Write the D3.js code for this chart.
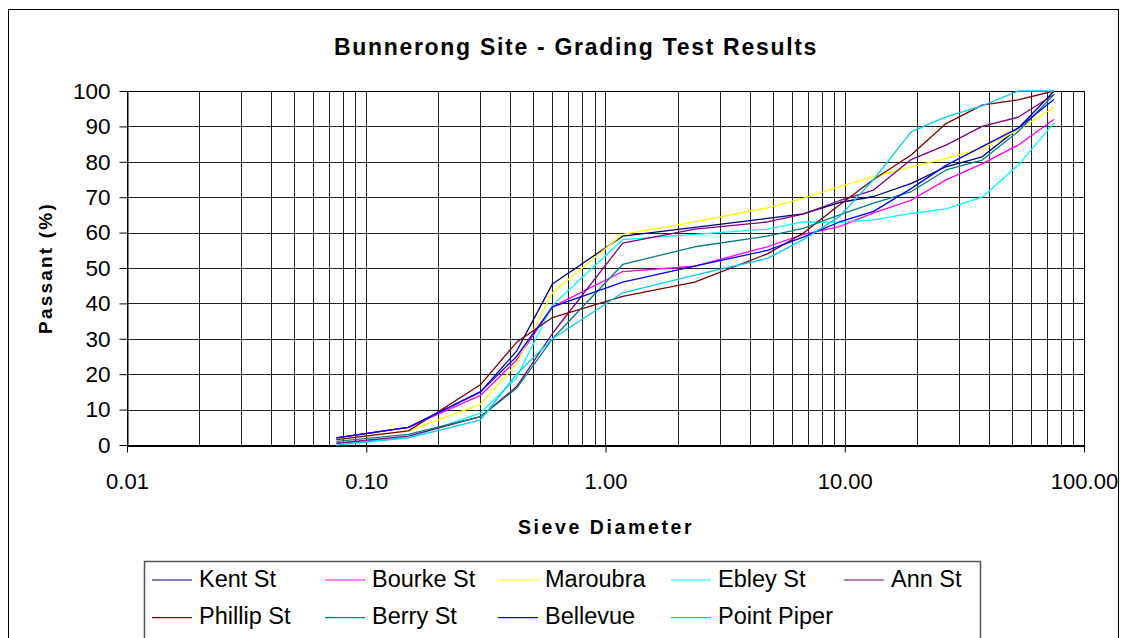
<!DOCTYPE html>
<html>
<head>
<meta charset="utf-8">
<script src="https://cdn.jsdelivr.net/npm/d3@7"></script>
<style>
  html, body { margin: 0; padding: 0; background: #fff; }
  svg { display: block; font-family: "Liberation Sans", Arial, sans-serif; }
</style>
</head>
<body>
<svg id="chart" width="1129" height="638"></svg>
<script>
const sieves = [0.075, 0.15, 0.3, 0.425, 0.6, 1.18, 2.36, 4.75, 6.7, 9.5, 13.2, 19, 26.5, 37.5, 53, 75];
const seriesNames = ["Kent St", "Bourke St", "Maroubra", "Ebley St", "Ann St", "Phillip St", "Berry St", "Bellevue", "Point Piper"];
const kentSt     = [2, 5, 15, 26.5, 45.5, 59, 61.5, 64, 65.3, 68.5, 70.2, 73.9, 78.6, 81.4, 89.4, 100];
const bourkeSt   = [2, 5, 14, 24, 39, 49, 50.5, 56, 59.5, 61.7, 65.6, 69.2, 74.9, 79.4, 84.7, 92];
const maroubra   = [1.5, 4, 11.5, 23, 43, 59.5, 63, 67, 69.7, 73, 75.8, 78.6, 81, 83.8, 89, 95.4];
const ebleySt    = [0.5, 2, 9, 19, 39.5, 58, 59.5, 61, 63, 62.9, 63.6, 65.4, 66.7, 70, 79, 91];
const annSt      = [0.5, 2.5, 8, 16.5, 31.5, 57, 61, 63, 65.2, 69, 72, 80.7, 84.7, 90, 92.6, 99];
const phillipSt  = [1.5, 4, 17, 29, 36, 42, 46, 54, 59.8, 67.8, 75, 82, 90.8, 96, 97.5, 100];
const berrySt    = [1, 3, 8, 16, 30, 51, 56, 59, 61.2, 65, 68.3, 71.6, 77.7, 80.5, 88.5, 99];
const bellevue   = [2, 5, 15, 25, 39, 46, 50.5, 55, 58.7, 63, 66, 72.5, 79, 84.3, 89.5, 97.7];
const pointPiper = [0, 2, 7, 20, 30, 43, 48, 52.7, 58, 64.5, 75, 88.5, 92.7, 95.8, 100, 100];
const seriesValues = [kentSt, bourkeSt, maroubra, ebleySt, annSt, phillipSt, berrySt, bellevue, pointPiper];
const seriesColors = ["#000080", "#FF00FF", "#FFFF00", "#00FFFF", "#800080", "#800000", "#008080", "#0000FF", "#00CCFF"];
const xTickValues = [0.01, 0.1, 1, 10, 100];
const yTickValues = [0, 10, 20, 30, 40, 50, 60, 70, 80, 90, 100];
const titleText = "Bunnerong Site - Grading Test Results";
const xTitle = "Sieve Diameter";
const yTitle = "Passant (%)";

const svg = d3.select("#chart");
const L = 127, R = 1084, T = 91, B = 445;
const x = d3.scaleLog().domain([0.01, 100]).range([L, R]);
const y = d3.scaleLinear().domain([0, 100]).range([B, T]);
const FONT = "Liberation Sans, Arial, sans-serif";

// outer chart border
svg.append("rect").attr("x", 8.5).attr("y", 9.5).attr("width", 1110).attr("height", 640)
  .attr("fill", "none").attr("stroke", "#000").attr("stroke-width", 1);

// minor/major vertical gridlines
const gridX = [];
for (let e = -2; e < 2; e++) for (let m = 1; m < 10; m++) gridX.push(m * Math.pow(10, e));
gridX.push(100);
svg.append("g").selectAll("line").data(gridX).join("line")
  .attr("x1", d => Math.round(x(d)) + 0.5).attr("x2", d => Math.round(x(d)) + 0.5)
  .attr("y1", T).attr("y2", B)
  .attr("stroke", "#222").attr("stroke-width", 1);

svg.append("g").selectAll("line").data(yTickValues).join("line")
  .attr("x1", L).attr("x2", R)
  .attr("y1", d => Math.round(y(d)) + 0.5).attr("y2", d => Math.round(y(d)) + 0.5)
  .attr("stroke", "#222").attr("stroke-width", 1);

// plot border
svg.append("rect").attr("x", L + 0.5).attr("y", T + 0.5).attr("width", R - L).attr("height", B - T)
  .attr("fill", "none").attr("stroke", "#000").attr("stroke-width", 1);

// axes
const yAxis = d3.axisLeft(y).tickValues(yTickValues).tickSize(8).tickSizeOuter(0).tickPadding(9);
const gy = svg.append("g").attr("transform", `translate(${L + 0.5},0)`).call(yAxis);
gy.select(".domain").attr("stroke", "#000");
gy.selectAll(".tick line").attr("stroke", "#000");
gy.selectAll(".tick text").attr("font-size", 22.5).attr("fill", "#000").attr("font-family", FONT);

const xAxis = d3.axisBottom(x).tickValues(xTickValues).tickFormat(d3.format(".2f")).tickSize(7).tickSizeOuter(0).tickPadding(21);
const gx = svg.append("g").attr("transform", `translate(0,${B + 0.5})`).call(xAxis);
gx.select(".domain").attr("stroke", "#000").attr("stroke-width", 2);
gx.selectAll(".tick line").attr("stroke", "#000");
gx.selectAll(".tick text").attr("font-size", 22).attr("fill", "#000").attr("font-family", FONT);

// series lines
const line = d3.line().x((d, i) => x(sieves[i])).y(d => y(d));
svg.append("g").selectAll("path").data(seriesValues).join("path")
  .attr("d", d => line(d))
  .attr("fill", "none")
  .attr("stroke", (d, i) => seriesColors[i])
  .attr("stroke-width", 1.3)
  .attr("stroke-linejoin", "round");

// titles
svg.append("text").attr("x", 576).attr("y", 55).attr("text-anchor", "middle")
  .attr("font-size", 23).attr("font-weight", "bold").attr("letter-spacing", 1.7).text(titleText);
svg.append("text").attr("x", 606).attr("y", 534).attr("text-anchor", "middle")
  .attr("font-size", 19.5).attr("font-weight", "bold").attr("letter-spacing", 2.6).text(xTitle);
svg.append("text").attr("transform", "translate(52,268) rotate(-90)").attr("text-anchor", "middle")
  .attr("font-size", 19).attr("font-weight", "bold").attr("letter-spacing", 2.2).text(yTitle);

// legend
const legend = svg.append("g");
legend.append("rect").attr("x", 144.5).attr("y", 561.5).attr("width", 836).attr("height", 100)
  .attr("fill", "#fff").attr("stroke", "#555").attr("stroke-width", 1.5);
const items = legend.selectAll("g.item").data(seriesNames).join("g").attr("class", "item")
  .attr("transform", (d, i) => `translate(${152 + (i % 5) * 173},${580 + Math.floor(i / 5) * 37.7})`);
items.append("line").attr("x1", 0).attr("x2", 40).attr("y1", 0).attr("y2", 0)
  .attr("stroke", (d, i) => seriesColors[i]).attr("stroke-width", 1.2);
items.append("text").attr("x", 47).attr("y", 6.7).attr("font-size", 23.5).text(d => d);
</script>
</body>
</html>
